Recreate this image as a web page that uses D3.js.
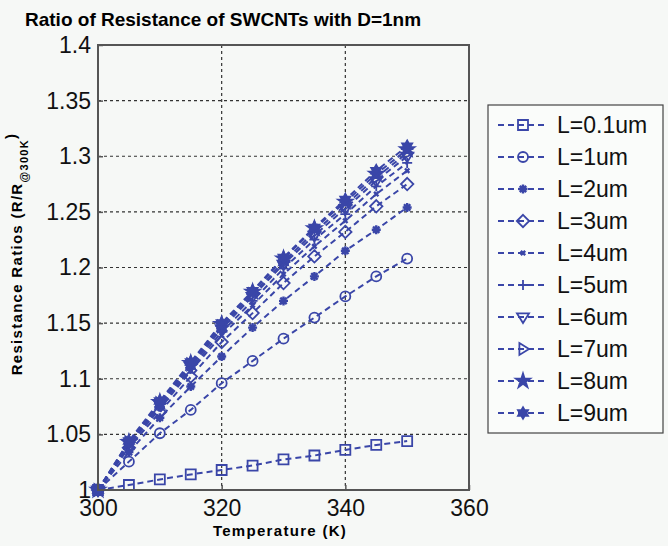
<!DOCTYPE html>
<html>
<head>
<meta charset="utf-8">
<script src="https://cdn.jsdelivr.net/npm/d3@7"></script>
<style>
  html, body { margin: 0; padding: 0; background: #f6f8f6; }
  svg { display: block; font-family: "Liberation Sans", Arial, sans-serif; }
</style>
</head>
<body>
<svg id="chart" width="668" height="546"></svg>
<script>
// Temperature sweep (K)
const temperatures = [300, 305, 310, 315, 320, 325, 330, 335, 340, 345, 350];

// Resistance ratio R/R(300K) for each tube length
const ratio_L01 = [1.000, 1.0045, 1.0095, 1.014, 1.018, 1.022, 1.0275, 1.031, 1.036, 1.0405, 1.044];
const ratio_L1  = [1.000, 1.0255, 1.051, 1.072, 1.096, 1.116, 1.136, 1.155, 1.174, 1.192, 1.208];
const ratio_L2  = [1.000, 1.034, 1.065, 1.093, 1.120, 1.146, 1.170, 1.192, 1.215, 1.234, 1.254];
const ratio_L3  = [1.000, 1.038, 1.070, 1.102, 1.133, 1.159, 1.186, 1.210, 1.232, 1.255, 1.275];
const ratio_L4  = [1.000, 1.040, 1.073, 1.107, 1.139, 1.166, 1.194, 1.219, 1.242, 1.266, 1.287];
const ratio_L5  = [1.000, 1.041, 1.075, 1.109, 1.142, 1.170, 1.199, 1.225, 1.248, 1.273, 1.294];
const ratio_L6  = [1.000, 1.042, 1.077, 1.111, 1.145, 1.174, 1.203, 1.229, 1.253, 1.278, 1.300];
const ratio_L7  = [1.000, 1.043, 1.078, 1.113, 1.147, 1.176, 1.205, 1.232, 1.256, 1.281, 1.303];
const ratio_L8  = [1.000, 1.043, 1.079, 1.114, 1.149, 1.178, 1.208, 1.235, 1.259, 1.284, 1.306];
const ratio_L9  = [1.000, 1.044, 1.080, 1.115, 1.150, 1.179, 1.209, 1.236, 1.261, 1.287, 1.309];

const seriesNames = ["L=0.1um", "L=1um", "L=2um", "L=3um", "L=4um", "L=5um", "L=6um", "L=7um", "L=8um", "L=9um"];
const seriesValues = [ratio_L01, ratio_L1, ratio_L2, ratio_L3, ratio_L4, ratio_L5, ratio_L6, ratio_L7, ratio_L8, ratio_L9];
const markerKinds = ["square", "circle", "asterisk", "diamond", "cross", "plus", "triDown", "triRight", "pentagram", "hexagram"];

const xTicks = [300, 320, 340, 360];
const yTicks = [1, 1.05, 1.1, 1.15, 1.2, 1.25, 1.3, 1.35, 1.4];

const color = "#3a46a8";
const svg = d3.select("#chart");

const plot = { left: 98, right: 469, top: 45, bottom: 490 };
const x = d3.scaleLinear().domain([300, 360]).range([plot.left, plot.right]);
const y = d3.scaleLinear().domain([1, 1.4]).range([plot.bottom, plot.top]);

// Title
svg.append("text")
  .attr("x", 25).attr("y", 26)
  .attr("font-size", 19).attr("font-weight", "bold")
  .text("Ratio of Resistance of SWCNTs with D=1nm");

// Grid lines
const grid = svg.append("g").attr("stroke", "#333").attr("stroke-width", 1.2)
  .attr("stroke-dasharray", "3,3");
grid.selectAll("line.gx").data(xTicks.slice(1, -1)).join("line")
  .attr("x1", d => x(d)).attr("x2", d => x(d))
  .attr("y1", plot.top).attr("y2", plot.bottom);
grid.selectAll("line.gy").data(yTicks.slice(1, -1)).join("line")
  .attr("x1", plot.left).attr("x2", plot.right)
  .attr("y1", d => y(d)).attr("y2", d => y(d));

// Axes (MATLAB-style inward ticks)
const yAxis = d3.axisLeft(y).tickValues(yTicks).tickSize(-5).tickPadding(7)
  .tickFormat(d => String(+d.toFixed(2)));
const xAxis = d3.axisBottom(x).tickValues(xTicks).tickSize(-5).tickPadding(10)
  .tickFormat(d3.format("d"));

const gy = svg.append("g").attr("transform", `translate(${plot.left},0)`).call(yAxis);
const gx = svg.append("g").attr("transform", `translate(0,${plot.bottom})`).call(xAxis);
[gx, gy].forEach(g => {
  g.select(".domain").remove();
  g.selectAll(".tick line").attr("stroke", "#555").attr("stroke-width", 1.5);
  g.selectAll(".tick text").attr("font-size", 23).attr("fill", "#111")
    .attr("font-family", "Liberation Sans, Arial, sans-serif");
});

// Marker shapes
function markerPath(kind, s) {
  switch (kind) {
    case "square": return d3.symbol(d3.symbolSquare, s * s)();
    case "circle": return d3.symbol(d3.symbolCircle, Math.PI * s * s / 4)();
    case "diamond": {
      const r = s * 0.62;
      return `M0,${-r}L${r},0L0,${r}L${-r},0Z`;
    }
    case "triDown": {
      const r = s * 0.6;
      return `M${-r},${-r * 0.6}L${r},${-r * 0.6}L0,${r}Z`;
    }
    case "triRight": {
      const r = s * 0.6;
      return `M${-r * 0.6},${-r}L${r},0L${-r * 0.6},${r}Z`;
    }
    case "plus": {
      const r = s * 0.5;
      return `M${-r},0L${r},0M0,${-r}L0,${r}`;
    }
    case "cross": {
      const r = s * 0.22;
      return `M${-r},${-r}L${r},${r}M${-r},${r}L${r},${-r}`;
    }
    case "asterisk": {
      const r = s * 0.45, q = r * 0.7071;
      return `M${-r},0L${r},0M0,${-r}L0,${r}M${-q},${-q}L${q},${q}M${-q},${q}L${q},${-q}`;
    }
    case "pentagram": {
      const R = s * 0.75, ri = R * 0.382;
      let d = "";
      for (let i = 0; i < 10; i++) {
        const a = -Math.PI / 2 + i * Math.PI / 5;
        const rr = i % 2 ? ri : R;
        d += (i ? "L" : "M") + (rr * Math.cos(a)).toFixed(2) + "," + (rr * Math.sin(a)).toFixed(2);
      }
      return d + "Z";
    }
    case "hexagram": {
      const R = s * 0.58, ri = R * 0.577;
      let d = "";
      for (let i = 0; i < 12; i++) {
        const a = -Math.PI / 2 + i * Math.PI / 6;
        const rr = i % 2 ? ri : R;
        d += (i ? "L" : "M") + (rr * Math.cos(a)).toFixed(2) + "," + (rr * Math.sin(a)).toFixed(2);
      }
      return d + "Z";
    }
  }
  return "";
}
const filledKinds = new Set(["pentagram", "hexagram"]);
function styleMarker(sel, kind) {
  sel.attr("d", markerPath(kind, 10))
    .attr("fill", filledKinds.has(kind) ? color : "none")
    .attr("stroke", color)
    .attr("stroke-width", (kind === "asterisk" || kind === "cross") ? 2.4 : 1.8)
    .attr("stroke-linejoin", "miter");
}

// Series
const line = d3.line().x((d, i) => x(temperatures[i])).y(d => y(d));
const seriesG = svg.append("g");
seriesValues.forEach((vals, si) => {
  const g = seriesG.append("g");
  g.append("path").datum(vals)
    .attr("d", line)
    .attr("fill", "none")
    .attr("stroke", color)
    .attr("stroke-width", 2)
    .attr("stroke-dasharray", "6,4");
  g.selectAll("path.m").data(vals).join("path")
    .attr("class", "m")
    .attr("transform", (d, i) => `translate(${x(temperatures[i])},${y(d)})`)
    .call(styleMarker, markerKinds[si]);
});

// Plot frame
svg.append("rect")
  .attr("x", plot.left).attr("y", plot.top)
  .attr("width", plot.right - plot.left).attr("height", plot.bottom - plot.top)
  .attr("fill", "none").attr("stroke", "#555").attr("stroke-width", 2);

// Axis titles
svg.append("text")
  .attr("x", 280).attr("y", 536)
  .attr("text-anchor", "middle").attr("font-size", 15).attr("font-weight", "bold")
  .attr("letter-spacing", 1.3)
  .text("Temperature (K)");

const yl = svg.append("text")
  .attr("transform", "translate(22,254) rotate(-90)")
  .attr("text-anchor", "middle").attr("font-size", 15).attr("font-weight", "bold")
  .attr("letter-spacing", 1.3);
yl.append("tspan").text("Resistance Ratios (R/R");
yl.append("tspan").attr("font-size", 11).attr("dy", 6).text("@300K");
yl.append("tspan").attr("dy", -12).text(")");

// Legend
const legend = svg.append("g");
legend.append("rect")
  .attr("x", 488).attr("y", 105).attr("width", 175).attr("height", 328)
  .attr("fill", "#fafcfa").attr("stroke", "#444").attr("stroke-width", 1.2);
seriesNames.forEach((name, si) => {
  const cy = 125 + si * 32;
  const row = legend.append("g").attr("transform", `translate(0,${cy})`);
  row.append("line")
    .attr("x1", 498).attr("x2", 548).attr("y1", 0).attr("y2", 0)
    .attr("stroke", color).attr("stroke-width", 2).attr("stroke-dasharray", "6,4");
  row.append("path").attr("transform", "translate(523,0)").call(styleMarker, markerKinds[si]);
  row.append("text")
    .attr("x", 557).attr("y", 8)
    .attr("font-size", 23).attr("fill", "#111")
    .text(name);
});
</script>
</body>
</html>
